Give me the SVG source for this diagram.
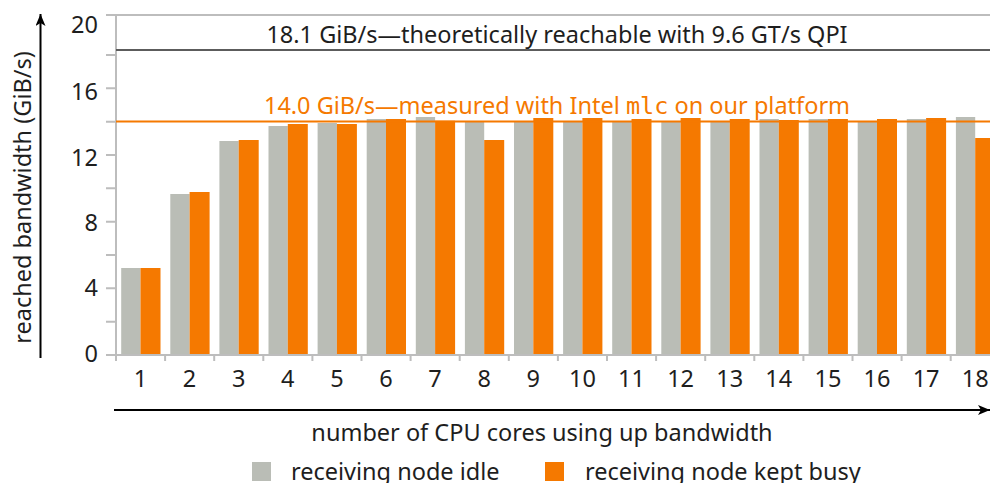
<svg xmlns="http://www.w3.org/2000/svg" width="990" height="483" viewBox="0 0 990 483">
  <style>
    text { font-family: "Noto Sans", "Open Sans", sans-serif; font-size: 23.5px; fill: #1e1e1e; }
    .ylab { text-anchor: end; }
    .xlab { text-anchor: middle; }
    .mono { font-family: "DejaVu Sans Mono", "Liberation Mono", monospace; }
    .idle { fill: #babdb6; }
    .busy { fill: #f57900; }
    .frame { stroke: #bdbdbd; stroke-width: 2; fill: none; }
    .axis { stroke: #000; stroke-width: 2; fill: none; }
  </style>
  <defs>
    <marker id="arrow" viewBox="0 0 12 10" refX="12" refY="5" markerWidth="12" markerHeight="10" markerUnits="userSpaceOnUse" orient="auto" preserveAspectRatio="none">
      <path d="M0,0 L12,5 L0,10 L3,5 z" fill="#000"/>
    </marker>
  </defs>

  <!-- plot frame: top edge, y axis, x axis, ticks -->
  <g id="frame" class="frame">
    <path d="M106,15 H990"/>
    <path d="M116,15 V361"/>
    <path d="M106,355 H990"/>
    <path d="M106,55 H116 M106,88.3 H116 M106,121.7 H116 M106,155 H116 M106,188.3 H116 M106,221.7 H116 M106,255 H116 M106,288.3 H116 M106,321.7 H116"/>
    <path d="M165.1,355 V361 M214.2,355 V361 M263.3,355 V361 M312.4,355 V361 M361.5,355 V361 M410.6,355 V361 M459.7,355 V361 M508.8,355 V361 M557.9,355 V361 M607,355 V361 M656.1,355 V361 M705.2,355 V361 M754.3,355 V361 M803.4,355 V361 M852.5,355 V361 M901.6,355 V361 M950.7,355 V361"/>
  </g>

  <!-- y tick labels -->
  <g id="yticks">
    <text class="ylab" x="98" y="33">20</text>
    <text class="ylab" x="98" y="100">16</text>
    <text class="ylab" x="98" y="166">12</text>
    <text class="ylab" x="98" y="231">8</text>
    <text class="ylab" x="98" y="296">4</text>
    <text class="ylab" x="98" y="362">0</text>
  </g>

  <!-- bars: receiving node idle -->
  <g id="bars-idle" class="idle">
    <rect x="121.2" y="268" width="19.3" height="87"/>
    <rect x="170.3" y="194" width="19.3" height="161"/>
    <rect x="219.4" y="141" width="19.3" height="214"/>
    <rect x="268.5" y="126" width="19.3" height="229"/>
    <rect x="317.6" y="123" width="19.3" height="232"/>
    <rect x="366.7" y="119" width="19.3" height="236"/>
    <rect x="415.8" y="117" width="19.3" height="238"/>
    <rect x="464.9" y="121" width="19.3" height="234"/>
    <rect x="514" y="122" width="19.3" height="233"/>
    <rect x="563.1" y="122" width="19.3" height="233"/>
    <rect x="612.2" y="122" width="19.3" height="233"/>
    <rect x="661.3" y="121.5" width="19.3" height="233.5"/>
    <rect x="710.4" y="121.5" width="19.3" height="233.5"/>
    <rect x="759.5" y="119" width="19.3" height="236"/>
    <rect x="808.6" y="119" width="19.3" height="236"/>
    <rect x="857.7" y="121.5" width="19.3" height="233.5"/>
    <rect x="906.8" y="119" width="19.3" height="236"/>
    <rect x="955.9" y="117" width="19.3" height="238"/>
  </g>

  <!-- bars: receiving node kept busy -->
  <g id="bars-busy" class="busy">
    <rect x="140.5" y="268" width="20" height="87"/>
    <rect x="189.6" y="192" width="20" height="163"/>
    <rect x="238.7" y="140" width="20" height="215"/>
    <rect x="287.8" y="124" width="20" height="231"/>
    <rect x="336.9" y="124" width="20" height="231"/>
    <rect x="386" y="119" width="20" height="236"/>
    <rect x="435.1" y="120.7" width="20" height="234.3"/>
    <rect x="484.2" y="140" width="20" height="215"/>
    <rect x="533.3" y="118" width="20" height="237"/>
    <rect x="582.4" y="118" width="20" height="237"/>
    <rect x="631.5" y="119" width="20" height="236"/>
    <rect x="680.6" y="118" width="20" height="237"/>
    <rect x="729.7" y="119" width="20" height="236"/>
    <rect x="778.8" y="120" width="20" height="235"/>
    <rect x="827.9" y="119" width="20" height="236"/>
    <rect x="877" y="119" width="20" height="236"/>
    <rect x="926.1" y="118" width="20" height="237"/>
    <rect x="975.2" y="138" width="20" height="217"/>
  </g>

  <!-- x axis baseline drawn over bar feet -->
  <path class="frame" d="M106,355 H990"/>

  <!-- reference lines -->
  <g id="ref-qpi">
    <path d="M116,50 H990" stroke="#5c5c5c" stroke-width="2"/>
    <text x="557" y="43" text-anchor="middle">18.1 GiB/s—theoretically reachable with 9.6 GT/s QPI</text>
  </g>
  <g id="ref-mlc">
    <path d="M116,121.5 H990" stroke="#f57900" stroke-width="2"/>
    <text x="557" y="114" text-anchor="middle" style="fill:#f57900">14.0 GiB/s—measured with Intel <tspan class="mono">mlc</tspan> on our platform</text>
  </g>

  <!-- x tick labels -->
  <g id="xticks">
    <text class="xlab" x="140.5" y="387">1</text>
    <text class="xlab" x="189.6" y="387">2</text>
    <text class="xlab" x="238.7" y="387">3</text>
    <text class="xlab" x="287.8" y="387">4</text>
    <text class="xlab" x="336.9" y="387">5</text>
    <text class="xlab" x="386" y="387">6</text>
    <text class="xlab" x="435.1" y="387">7</text>
    <text class="xlab" x="484.2" y="387">8</text>
    <text class="xlab" x="533.3" y="387">9</text>
    <text class="xlab" x="582.4" y="387">10</text>
    <text class="xlab" x="631.5" y="387">11</text>
    <text class="xlab" x="680.6" y="387">12</text>
    <text class="xlab" x="729.7" y="387">13</text>
    <text class="xlab" x="778.8" y="387">14</text>
    <text class="xlab" x="827.9" y="387">15</text>
    <text class="xlab" x="877" y="387">16</text>
    <text class="xlab" x="926.1" y="387">17</text>
    <text class="xlab" x="975.2" y="387">18</text>
  </g>

  <!-- axis arrows and titles -->
  <g id="axes">
    <path class="axis" d="M40.5,358 V14" marker-end="url(#arrow)"/>
    <path class="axis" d="M114,410 H990" marker-end="url(#arrow)"/>
    <text x="31" y="197.5" text-anchor="middle" transform="rotate(-90 31 197.5)">reached bandwidth (GiB/s)</text>
    <text x="542" y="441" text-anchor="middle">number of CPU cores using up bandwidth</text>
  </g>

  <!-- legend -->
  <g id="legend">
    <rect class="idle" x="252" y="462" width="19" height="19"/>
    <text x="291" y="480">receiving node idle</text>
    <rect class="busy" x="545" y="462" width="19" height="19"/>
    <text x="585" y="480">receiving node kept busy</text>
  </g>
</svg>
